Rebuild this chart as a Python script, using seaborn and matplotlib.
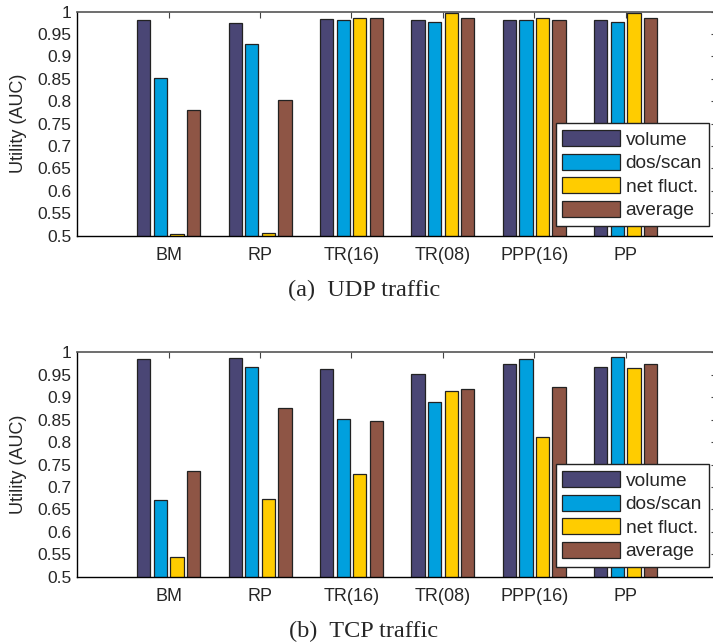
import numpy as np
import pandas as pd
import seaborn as sns
import matplotlib
matplotlib.use("Agg")
import matplotlib.pyplot as plt

methods = ["BM", "RP", "TR(16)", "TR(08)", "PPP(16)", "PP"]
metrics = ["volume", "dos/scan", "net fluct.", "average"]
colors = ["#4A4675", "#00A0DE", "#FFCC00", "#8E5545"]

udp_volume = [0.981, 0.975, 0.983, 0.981, 0.981, 0.981]
udp_dos = [0.851, 0.929, 0.981, 0.978, 0.981, 0.978]
udp_net = [0.503, 0.506, 0.986, 0.998, 0.985, 0.998]
udp_avg = [0.780, 0.803, 0.985, 0.985, 0.981, 0.985]

tcp_volume = [0.985, 0.987, 0.963, 0.952, 0.975, 0.967]
tcp_dos = [0.672, 0.967, 0.851, 0.889, 0.984, 0.989]
tcp_net = [0.545, 0.674, 0.729, 0.914, 0.811, 0.965]
tcp_avg = [0.735, 0.877, 0.848, 0.918, 0.923, 0.975]

yticks = [0.5, 0.55, 0.6, 0.65, 0.7, 0.75, 0.8, 0.85, 0.9, 0.95, 1.0]
ytick_labels = ["0.5", "0.55", "0.6", "0.65", "0.7", "0.75", "0.8", "0.85", "0.9", "0.95", "1"]


def to_long(series):
    rows = []
    for metric, vals in zip(metrics, series):
        for m, v in zip(methods, vals):
            rows.append({"method": m, "metric": metric, "value": v})
    return pd.DataFrame(rows)


udp_df = to_long([udp_volume, udp_dos, udp_net, udp_avg])
tcp_df = to_long([tcp_volume, tcp_dos, tcp_net, tcp_avg])

sns.set_style("white")
plt.rcParams["font.family"] = ["Liberation Sans", "DejaVu Sans"]

fig = plt.figure(figsize=(7.13, 6.43), dpi=100)
left = 77.3 / 713
width = (717.0 - 77.3) / 713
ax1 = fig.add_axes([left, 1 - 235.7 / 643, width, 224.0 / 643])
ax2 = fig.add_axes([left, 1 - 576.7 / 643, width, 224.4 / 643])


def draw(ax, df):
    sns.barplot(data=df, x="method", y="value", hue="metric", order=methods,
                hue_order=metrics, palette=colors, width=0.727, gap=0.2,
                edgecolor="#222222", linewidth=0.9, errorbar=None, ax=ax,
                saturation=1)
    ax.set_xlim(-1, 6)
    ax.set_ylim(0.5, 1.0)
    ax.set_yticks(yticks)
    ax.set_yticklabels(ytick_labels, fontsize=12.5)
    ax.set_xticks(range(len(methods)))
    ax.set_xticklabels(methods, fontsize=13)
    ax.set_xlabel("")
    ax.set_ylabel("Utility (AUC)", fontsize=13, labelpad=8)
    ax.tick_params(axis="both", direction="in", length=4.5, width=0.8,
                   top=True, right=True, color="#444444")
    ax.tick_params(axis="x", pad=8)
    ax.tick_params(axis="y", pad=4)
    for s in ["left", "bottom"]:
        ax.spines[s].set_color("black")
        ax.spines[s].set_linewidth(1.0)
    ax.spines["top"].set_color("#555555")
    ax.spines["top"].set_linewidth(1.2)
    ax.spines["right"].set_visible(False)
    handles, labels = ax.get_legend_handles_labels()
    leg = ax.legend(handles, labels, loc="lower right",
                    bbox_to_anchor=(0.987, 0.043), borderaxespad=0,
                    frameon=True, fancybox=False, framealpha=1,
                    edgecolor="#222222", fontsize=13.8, handlelength=3.0,
                    handleheight=0.9, handletextpad=0.3, labelspacing=0.26,
                    borderpad=0.35)
    leg.get_frame().set_linewidth(1.0)


draw(ax1, udp_df)
draw(ax2, tcp_df)

fig.text(0.51, 1 - 290 / 643, "(a)  UDP traffic", ha="center", va="center",
         family="Liberation Serif", fontsize=17.5)
fig.text(0.51, 1 - 631 / 643, "(b)  TCP traffic", ha="center", va="center",
         family="Liberation Serif", fontsize=17.5)

fig.savefig("out.png", dpi=100)
